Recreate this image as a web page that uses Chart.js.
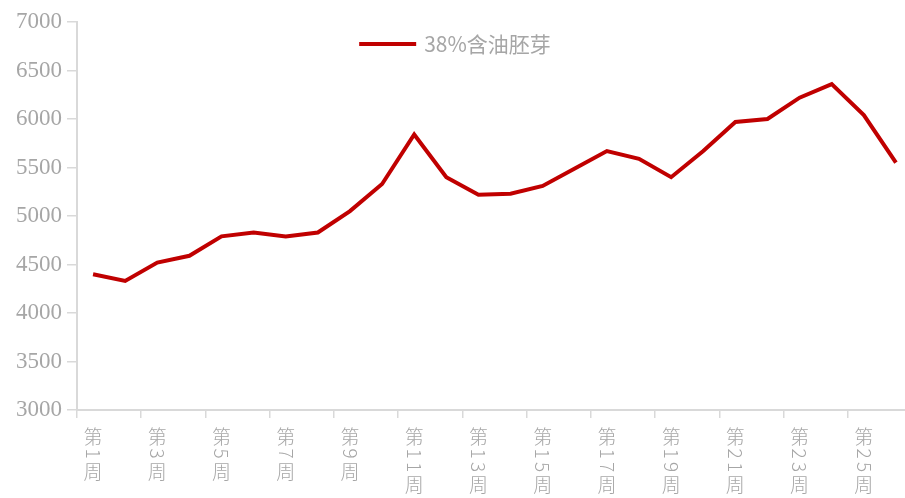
<!DOCTYPE html>
<html>
<head>
<meta charset="utf-8">
<script src="https://cdn.jsdelivr.net/npm/chart.js@4"></script>
<style>
    html, body { margin: 0; padding: 0; background: #fff; overflow: hidden; }
    #wrap { width: 914px; height: 498px; }
</style>
</head>
<body>
<div id="wrap"><canvas id="germPriceChart"></canvas></div>
<script>
// week numbers shown on the x axis (第N周)
const weeks = [1, 2, 3, 4, 5, 6, 7, 8, 9, 10, 11, 12, 13, 14, 15, 16, 17, 18, 19, 20, 21, 22, 23, 24, 25, 26];
const weekLabels = weeks.map(w => '第' + w + '周');
// 38%含油胚芽 price
const germPrices = [4400, 4330, 4520, 4590, 4790, 4830, 4790, 4830, 5050, 5330, 5840, 5400, 5220,
    5230, 5310, 5490, 5670, 5590, 5400, 5670, 5970, 6000, 6220, 6360, 6040, 5550];
const seriesName = '38%含油胚芽';
const yTicks = [3000, 3500, 4000, 4500, 5000, 5500, 6000, 6500, 7000];

const axisGrey = '#d9d9d9';
const textGrey = '#a6a6a6';
const lineRed = '#c00000';

// x labels are written top to bottom, digits turned sideways
const verticalWeekLabels = {
    id: 'verticalWeekLabels',
    afterDraw(chart) {
        const ctx = chart.ctx;
        const xScale = chart.scales.x;
        ctx.save();
        ctx.fillStyle = textGrey;
        ctx.font = '300 19px "Noto Sans CJK SC", sans-serif';
        ctx.textAlign = 'center';
        ctx.textBaseline = 'middle';
        weeks.forEach((w, i) => {
            if (i % 2) return;
            const x = xScale.getPixelForTick(i);
            let y = xScale.top + 27;
            ctx.fillText('第', x, y);
            y += 10;
            for (const d of String(w)) {
                ctx.save();
                ctx.translate(x, y + 6.5);
                ctx.rotate(Math.PI / 2);
                ctx.fillText(d, 0, 0);
                ctx.restore();
                y += 13.5;
            }
            y += 11;
            ctx.fillText('周', x, y);
        });
        ctx.restore();
    }
};

// legend sits inside the plot, near the top
const insideLegend = {
    id: 'insideLegend',
    afterDatasetsDraw(chart) {
        const ctx = chart.ctx;
        const ds = chart.data.datasets[0];
        ctx.save();
        ctx.font = '21px "Noto Sans CJK SC", sans-serif';
        const textW = ctx.measureText(ds.label).width;
        const lineW = 57, gap = 8;
        let x = chart.width / 2 - (lineW + gap + textW) / 2 - 2;
        const y = 44;
        ctx.strokeStyle = ds.borderColor;
        ctx.lineWidth = 4;
        ctx.beginPath();
        ctx.moveTo(x, y);
        ctx.lineTo(x + lineW, y);
        ctx.stroke();
        ctx.fillStyle = textGrey;
        ctx.textBaseline = 'middle';
        ctx.textAlign = 'left';
        ctx.fillText(ds.label, x + lineW + gap, y);
        ctx.restore();
    }
};

const ctx = document.getElementById('germPriceChart').getContext('2d');
new Chart(ctx, {
    type: 'line',
    data: {
        labels: weekLabels,
        datasets: [{
            label: seriesName,
            data: germPrices,
            borderColor: lineRed,
            backgroundColor: lineRed,
            borderWidth: 4,
            pointRadius: 0,
            tension: 0,
            fill: false
        }]
    },
    options: {
        responsive: true,
        maintainAspectRatio: false,
        animation: false,
        layout: { padding: { top: 22, right: 2, left: 0, bottom: 0 } },
        plugins: {
            legend: { display: false },
            tooltip: { enabled: false }
        },
        scales: {
            x: {
                offset: true,
                grid: {
                    offset: true,
                    drawOnChartArea: false,
                    tickLength: 8,
                    lineWidth: 1.5,
                    color: (c) => (c.index % 2 === 0 ? axisGrey : 'rgba(0,0,0,0)')
                },
                border: { color: axisGrey, width: 2 },
                ticks: { display: false, autoSkip: false },
                afterFit: (scale) => { scale.height = 88; }
            },
            y: {
                min: 3000,
                max: 7000,
                afterBuildTicks: (scale) => { scale.ticks = yTicks.map(v => ({ value: v })); },
                grid: { drawOnChartArea: false, tickLength: 10, color: axisGrey, lineWidth: 1.5 },
                border: { color: axisGrey, width: 2 },
                ticks: {
                    color: textGrey,
                    padding: 5,
                    font: { family: "'Liberation Serif', serif", size: 23 },
                    callback: (v) => String(v)
                },
                afterFit: (scale) => { scale.width = 77; }
            }
        }
    },
    plugins: [verticalWeekLabels, insideLegend]
});
</script>
</body>
</html>
